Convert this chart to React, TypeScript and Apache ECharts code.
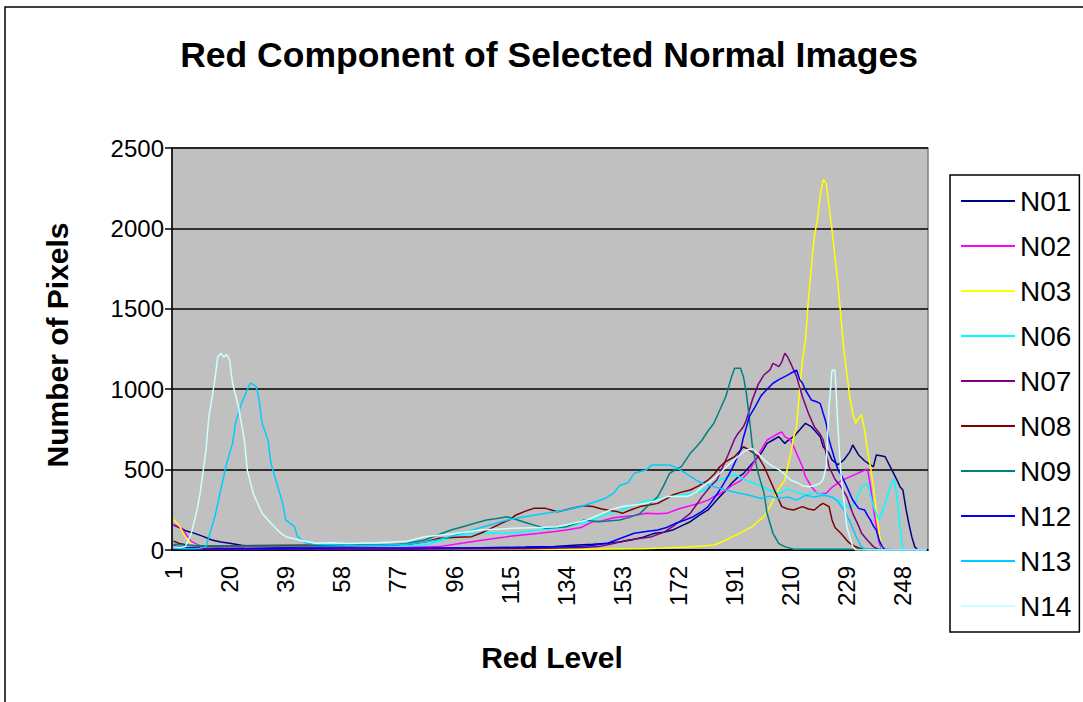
import React, { useEffect, useRef } from "react";
import * as echarts from "echarts";

const levels: string[] = Array.from({ length: 256 }, (_, i) => String(i + 1));
const seriesNames = ["N01", "N02", "N03", "N06", "N07", "N08", "N09", "N12", "N13", "N14"];
const seriesColors = ["#000080", "#FF00FF", "#FFFF00", "#00FFFF", "#800080", "#800000", "#008080", "#0000FF", "#00CCFF", "#CCFFFF"];

const n01: [number, number][] = [[1,155],[3,140],[5,120],[8,105],[11,85],[14,62],[17,50],[20,42],[24,30],[28,22],[33,18],[40,15],[50,15],[60,12],[70,12],[80,10],[90,12],[100,12],[110,15],[120,18],[130,22],[138,31],[143,35],[148,42],[152,50],[156,62],[160,80],[164,104],[167,110],[170,124],[173,150],[176,176],[179,215],[182,249],[184,290],[186,332],[188,370],[190,415],[192,450],[194,475],[196,518],[198,560],[200,601],[202,663],[204,684],[206,705],[208,663],[209,680],[211,705],[213,746],[215,788],[217,767],[218,746],[220,705],[221,642],[223,601],[224,560],[226,530],[228,560],[230,610],[231,653],[233,591],[235,555],[237,529],[238,518],[239,591],[241,585],[242,580],[244,508],[246,435],[247,394],[248,373],[249,260],[250,166],[251,83],[252,20],[253,0],[256,0]];
const n02: [number, number][] = [[1,160],[3,145],[5,104],[7,52],[10,25],[15,15],[25,12],[40,10],[60,12],[80,15],[91,21],[98,40],[106,62],[114,83],[120,95],[125,104],[130,115],[134,124],[139,140],[143,176],[146,180],[150,200],[153,207],[157,215],[161,228],[165,225],[168,228],[172,255],[175,270],[179,290],[182,310],[184,332],[186,350],[188,373],[190,400],[193,430],[196,490],[198,560],[200,622],[202,684],[204,705],[206,726],[207,735],[208,705],[210,684],[212,601],[214,518],[215,456],[217,394],[219,352],[222,352],[224,390],[227,430],[230,455],[233,480],[235,495],[236,505],[237,400],[238,260],[239,145],[240,42],[241,0],[256,0]];
const n03: [number, number][] = [[1,190],[3,150],[5,83],[7,40],[10,20],[15,12],[25,8],[50,5],[100,5],[140,5],[160,8],[167,12],[175,18],[180,25],[184,31],[186,45],[188,62],[190,80],[193,105],[196,137],[197,145],[199,180],[201,207],[203,270],[204,311],[206,380],[208,435],[210,601],[211,700],[212,767],[213,995],[214,1181],[215,1306],[216,1555],[217,1762],[218,1949],[219,2050],[220,2200],[221,2305],[222,2280],[223,2135],[224,1990],[225,1824],[226,1659],[227,1451],[228,1244],[229,1100],[230,950],[231,850],[232,788],[233,820],[234,840],[235,750],[236,622],[237,518],[238,394],[239,249],[240,104],[241,0],[256,0]];
const n06: [number, number][] = [[1,60],[3,40],[6,30],[10,25],[40,25],[60,25],[80,28],[86,31],[92,60],[97,93],[106,104],[116,104],[125,124],[134,145],[140,170],[143,187],[146,215],[150,235],[153,250],[157,280],[160,300],[164,315],[168,330],[172,340],[176,350],[180,365],[184,420],[188,450],[191,470],[194,440],[197,420],[200,400],[203,370],[206,350],[209,380],[212,360],[215,340],[218,360],[221,345],[224,330],[227,300],[230,260],[232,300],[234,394],[236,415],[238,270],[240,187],[242,290],[244,410],[245,440],[246,332],[247,145],[248,0],[256,0]];
const n07: [number, number][] = [[1,30],[3,15],[6,8],[15,5],[40,5],[80,5],[120,8],[140,15],[145,21],[150,40],[155,62],[160,75],[163,83],[167,110],[170,145],[173,185],[176,228],[178,280],[180,332],[183,400],[185,435],[187,518],[189,600],[191,690],[192,720],[194,767],[195,808],[197,933],[199,1030],[201,1090],[203,1120],[204,1161],[206,1140],[207,1170],[208,1223],[209,1200],[210,1161],[212,1078],[214,953],[216,850],[218,767],[220,720],[221,684],[223,518],[225,440],[227,394],[229,332],[231,228],[233,150],[234,104],[236,60],[238,21],[240,0],[256,0]];
const n08: [number, number][] = [[1,55],[3,40],[6,30],[10,25],[20,25],[30,28],[40,30],[57,31],[70,31],[80,35],[86,50],[91,73],[97,80],[102,83],[105,104],[108,130],[112,166],[115,190],[117,218],[120,240],[123,259],[127,259],[131,238],[134,250],[136,259],[140,275],[143,270],[146,255],[148,249],[151,240],[153,228],[156,250],[159,270],[162,280],[165,290],[168,320],[170,342],[173,360],[176,373],[179,400],[182,435],[184,470],[186,518],[188,550],[191,580],[194,642],[196,622],[199,580],[201,518],[203,435],[205,352],[207,270],[209,255],[211,249],[214,270],[216,255],[218,249],[220,280],[221,290],[223,270],[224,187],[225,140],[227,104],[229,60],[230,42],[232,20],[235,0],[256,0]];
const n09: [number, number][] = [[1,35],[5,30],[10,28],[20,25],[40,25],[60,25],[75,30],[80,40],[86,62],[90,90],[95,124],[99,145],[103,166],[107,187],[110,195],[114,207],[117,190],[121,166],[124,150],[127,135],[131,140],[134,145],[138,170],[140,187],[143,180],[145,176],[148,180],[152,187],[155,200],[159,228],[162,280],[165,332],[167,400],[169,477],[171,500],[173,518],[176,601],[178,640],[180,684],[182,740],[184,788],[186,871],[188,953],[190,1078],[191,1130],[193,1130],[194,1078],[195,974],[196,820],[197,650],[198,560],[199,477],[201,352],[202,228],[204,104],[206,40],[208,21],[211,5],[240,5],[248,0],[256,0]];
const n12: [number, number][] = [[1,20],[5,15],[10,12],[20,10],[40,10],[60,12],[80,12],[100,12],[120,15],[138,21],[143,30],[148,42],[152,70],[157,104],[161,115],[165,124],[168,140],[171,166],[174,185],[177,207],[180,240],[182,270],[184,320],[186,373],[188,435],[190,500],[192,580],[193,620],[194,700],[196,829],[198,891],[200,960],[202,1000],[204,1037],[206,1060],[208,1078],[210,1099],[212,1119],[213,1060],[214,1037],[215,995],[217,933],[219,920],[220,912],[221,850],[222,790],[223,684],[225,560],[226,497],[227,470],[229,394],[231,311],[233,259],[235,249],[236,215],[237,187],[238,150],[239,124],[240,60],[241,21],[242,0],[256,0]];
const n13: [number, number][] = [[1,10],[5,8],[10,10],[12,21],[15,207],[17,373],[19,539],[21,663],[22,788],[24,912],[26,995],[27,1037],[28,1030],[29,1016],[30,933],[31,788],[33,684],[34,539],[36,415],[38,290],[39,187],[42,145],[43,83],[46,42],[50,35],[60,30],[70,30],[80,35],[90,60],[100,110],[106,145],[110,165],[114,187],[120,207],[127,228],[134,249],[139,270],[144,300],[147,320],[150,352],[152,400],[155,420],[157,477],[161,497],[163,529],[166,529],[169,529],[172,505],[175,470],[178,435],[180,415],[184,394],[188,373],[193,352],[196,340],[200,320],[203,335],[206,320],[209,330],[212,310],[215,340],[218,330],[221,340],[224,330],[226,300],[228,250],[230,180],[232,90],[234,20],[236,0],[256,0]];
const n14: [number, number][] = [[1,20],[3,15],[5,20],[7,100],[9,250],[10,350],[12,620],[13,830],[15,1057],[16,1202],[17,1223],[18,1200],[19,1215],[20,1182],[21,1037],[23,891],[25,684],[26,497],[28,352],[31,228],[34,166],[37,110],[39,83],[44,60],[49,42],[55,45],[60,40],[70,45],[80,55],[86,83],[95,100],[105,124],[116,135],[125,140],[131,145],[136,165],[141,187],[145,218],[149,250],[153,270],[157,280],[161,290],[165,310],[168,332],[172,335],[175,332],[178,360],[180,394],[183,430],[186,477],[189,530],[192,580],[195,622],[197,630],[199,600],[201,560],[203,530],[206,500],[208,470],[210,435],[212,420],[214,400],[216,394],[218,400],[220,415],[221,440],[222,518],[223,891],[224,1119],[225,1119],[226,760],[227,477],[228,311],[229,145],[231,21],[232,0],[256,0]];

const seriesData = [n01, n02, n03, n06, n07, n08, n09, n12, n13, n14];
const yTicks = { min: 0, max: 2500, interval: 500 };

const FONT = "Arial, 'Liberation Sans', sans-serif";

export default function App() {
  const ref = useRef<HTMLDivElement>(null);
  useEffect(() => {
    if (!ref.current) return;
    const chart = echarts.init(ref.current, undefined, { renderer: "svg" });
    chart.setOption({
      animation: false,
      backgroundColor: "#FFFFFF",
      textStyle: { fontFamily: FONT },
      grid: {
        left: 172,
        top: 148,
        width: 756,
        height: 402,
        show: true,
        backgroundColor: "#C0C0C0",
        borderColor: "#808080",
        borderWidth: 1.5,
      },
      xAxis: {
        type: "category",
        data: levels,
        boundaryGap: true,
        axisLine: { lineStyle: { color: "#000", width: 1.5 } },
        axisTick: { interval: 0, length: 7, lineStyle: { color: "#000", width: 1 } },
        axisLabel: {
          interval: 18,
          rotate: 90,
          fontSize: 24,
          color: "#000",
          margin: 16,
          padding: [12, 0, 0, 0],
          fontFamily: FONT,
        },
        splitLine: { show: false },
      },
      yAxis: {
        type: "value",
        min: yTicks.min,
        max: yTicks.max,
        interval: yTicks.interval,
        axisLine: { show: true, lineStyle: { color: "#000", width: 1.5 } },
        axisTick: { show: true, length: 7, lineStyle: { color: "#000", width: 1.5 } },
        axisLabel: {
          fontSize: 24,
          color: "#000",
          margin: 8,
          fontFamily: FONT,
          formatter: (v: number) => String(v),
        },
        splitLine: { show: true, lineStyle: { color: "#000", width: 1.5 } },
      },
      legend: {
        orient: "vertical",
        left: 950,
        top: 175,
        padding: [11, 8, 11, 11],
        itemGap: 15,
        itemWidth: 54,
        itemHeight: 2,
        icon: "rect",
        borderColor: "#000",
        borderWidth: 1.5,
        backgroundColor: "#FFFFFF",
        data: seriesNames,
        textStyle: { fontSize: 28, color: "#000", fontFamily: FONT, lineHeight: 30 },
      },
      graphic: [
        {
          type: "rect",
          shape: { x: 5, y: 7, width: 1200, height: 800 },
          style: { fill: "none", stroke: "#000", lineWidth: 1.5 },
          silent: true,
        },
        {
          type: "text",
          x: 549,
          y: 55,
          style: {
            text: "Red Component of Selected Normal Images",
            align: "center",
            verticalAlign: "middle",
            font: `bold 35.5px ${FONT}`,
            fill: "#000",
          },
        },
        {
          type: "text",
          x: 552,
          y: 657,
          style: {
            text: "Red Level",
            align: "center",
            verticalAlign: "middle",
            font: `bold 30px ${FONT}`,
            fill: "#000",
          },
        },
        {
          type: "text",
          x: 57,
          y: 345,
          rotation: Math.PI / 2,
          style: {
            text: "Number of Pixels",
            align: "center",
            verticalAlign: "middle",
            font: `bold 30px ${FONT}`,
            fill: "#000",
          },
        },
      ],
      series: seriesNames.map((name, i) => ({
        name,
        type: "line",
        showSymbol: false,
        symbol: "none",
        color: seriesColors[i],
        lineStyle: { color: seriesColors[i], width: 1.5 },
        data: seriesData[i].map(([lvl, v]) => [String(lvl), v]),
      })),
    });
    return () => chart.dispose();
  }, []);
  return (
    <div
      ref={ref}
      style={{ position: "fixed", left: 0, top: 0, width: 1083, height: 702 }}
    />
  );
}
